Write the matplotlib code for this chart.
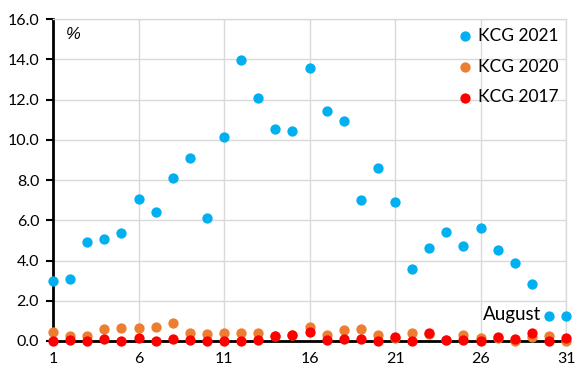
import matplotlib
matplotlib.use('Agg')
from matplotlib import pyplot as plt

days = list(range(1, 32))
kcg_2021 = [3.0, 3.1, 4.9, 5.07, 5.37, 7.06, 6.4, 8.1, 9.1, 6.1,
            10.15, 13.98, 12.09, 10.55, 10.45, 13.58, 11.44, 10.95, 7.0, 8.6,
            6.9, 3.6, 4.6, 5.4, 4.7, 5.6, 4.5, 3.9, 2.85, 1.25, 1.25]
kcg_2020 = [0.46, 0.25, 0.25, 0.58, 0.66, 0.63, 0.71, 0.91, 0.41, 0.36,
            0.41, 0.41, 0.41, 0.25, 0.3, 0.7, 0.3, 0.56, 0.58, 0.28,
            0.15, 0.38, 0.33, 0.05, 0.3, 0.15, 0.15, 0.0, 0.2, 0.25, 0.0]
kcg_2017 = [0.0, 0.07, 0.0, 0.08, 0.0, 0.17, 0.0, 0.12, 0.07, 0.0,
            0.0, 0.0, 0.07, 0.25, 0.32, 0.45, 0.05, 0.12, 0.12, 0.0,
            0.18, 0.0, 0.38, 0.05, 0.05, 0.0, 0.18, 0.12, 0.38, 0.0, 0.13]
x_ticks = [1, 6, 11, 16, 21, 26, 31]
y_ticks = [0, 2, 4, 6, 8, 10, 12, 14, 16]

plt.rcParams['font.family'] = ['Lato', 'DejaVu Sans']

fig = plt.figure(figsize=(5.83, 3.83), dpi=100)
ax = fig.add_axes([0.091, 0.1097, 0.880, 0.8403])

ax.scatter(days, kcg_2021, s=55, color='#00B0F0', label='KCG 2021',
           zorder=3, clip_on=False, linewidths=0)
ax.scatter(days, kcg_2020, s=55, color='#ED7D31', label='KCG 2020',
           zorder=4, clip_on=False, linewidths=0)
ax.scatter(days, kcg_2017, s=55, color='#FF0000', label='KCG 2017',
           zorder=5, clip_on=False, linewidths=0)

ax.set_xlim(1, 31)
ax.set_ylim(0, 16)
ax.set_xticks(x_ticks)
ax.set_yticks(y_ticks)
ax.set_yticklabels(['%.1f' % v for v in y_ticks])
ax.tick_params(axis='both', labelsize=11.5, colors='black')
ax.tick_params(axis='x', length=0, pad=8)
ax.tick_params(axis='y', direction='out', length=5, width=1.5, pad=5)

ax.grid(True, color='#D9D9D9', linewidth=1)
ax.set_axisbelow(True)
for side in ['top', 'right']:
    ax.spines[side].set_color('#D9D9D9')
    ax.spines[side].set_linewidth(1)
ax.spines['left'].set_linewidth(2)
ax.spines['bottom'].set_linewidth(2)
ax.spines['bottom'].set_zorder(2)

ax.text(1.75, 15.25, '%', fontsize=12, style='italic', va='center',
        family='Liberation Sans')
ax.text(29.55, 1.3, 'August', fontsize=13.5, ha='right', va='center')

ax.legend(loc='upper right', frameon=False, fontsize=12.5, handletextpad=0.2,
          labelspacing=0.85, borderaxespad=0.2, handlelength=1.0,
          bbox_to_anchor=(1.005, 1.005))

fig.savefig('out.png', dpi=100)
